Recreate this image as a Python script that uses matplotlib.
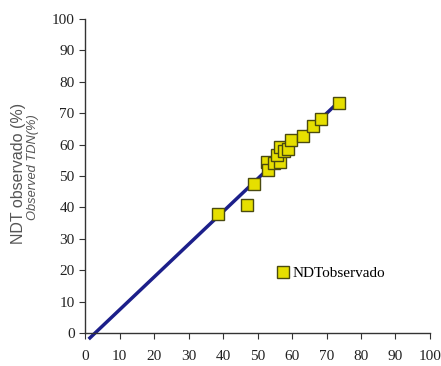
import numpy as np
import matplotlib.pyplot as plt

# observed points (x predicted, y observed)
obs_x = [38.6, 46.9, 49.1, 52.7, 53.0, 54.8, 56.5, 55.6, 56.5, 57.7, 58.9, 59.7, 63.1, 66.0, 68.3, 73.7]
obs_y = [37.8, 40.7, 47.6, 54.5, 51.9, 54.3, 54.4, 56.8, 59.3, 57.9, 58.7, 61.4, 62.6, 65.8, 68.3, 73.4]

# fitted line
fit_slope = 1.042
fit_intercept = -3.0
fit_range = [1.4, 73.9]

ticks = list(range(0, 101, 10))

fig = plt.figure(figsize=(4.41, 3.66), dpi=100)
ax = fig.add_axes([0.193, 0.09, 0.782, 0.858])

fx = np.array(fit_range)
ax.plot(fx, fit_slope * fx + fit_intercept, color='#1c1f8a', lw=2.5, clip_on=False, zorder=2)
ax.plot(obs_x, obs_y, ls='none', marker='s', ms=8.5, mfc='#e6df00', mec='#4a4a10',
        mew=1.0, label='NDTobservado', zorder=3)

ax.set_xlim(0, 100)
ax.set_ylim(0, 100)
ax.set_xticks(ticks)
ax.set_yticks(ticks)
for s in ['top', 'right']:
    ax.spines[s].set_visible(False)
for s in ['left', 'bottom']:
    ax.spines[s].set_color('#333333')
    ax.spines[s].set_linewidth(1.0)
ax.tick_params(direction='out', length=4, color='#333333', labelsize=11, labelcolor='#222222')
ax.tick_params(axis='x', pad=8)
for lab in ax.get_xticklabels() + ax.get_yticklabels():
    lab.set_family('Liberation Serif')

fig.text(0.041, 0.525, 'NDT observado (%)', rotation=90, ha='center', va='center',
         family='Liberation Sans', fontsize=11.5, color='#555555')
fig.text(0.075, 0.544, 'Observed TDN(%)', rotation=90, ha='center', va='center',
         family='Liberation Sans', fontsize=9.3, style='italic', color='#555555')

ax.legend(loc='center', bbox_to_anchor=(0.71, 0.19), frameon=False, handletextpad=0.1,
          handlelength=1.0, prop={'family': 'Liberation Serif', 'size': 11})

fig.savefig('out.png', dpi=100)
